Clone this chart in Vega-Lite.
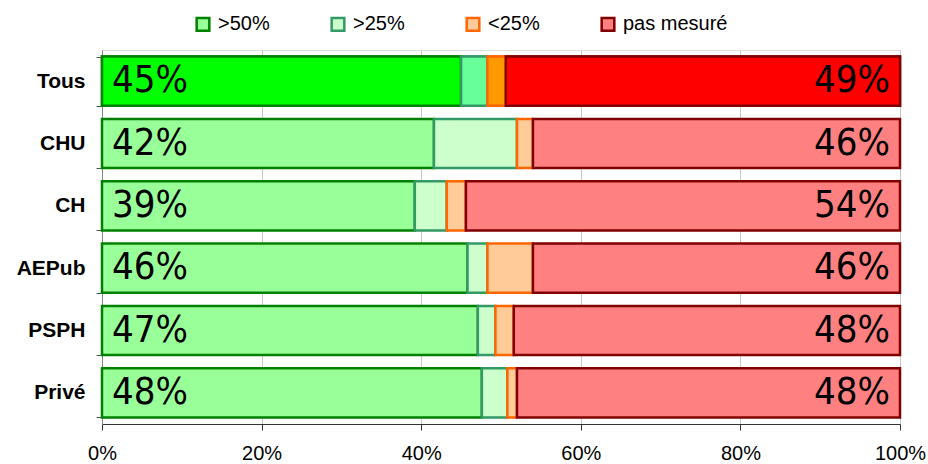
{
  "$schema": "https://vega.github.io/schema/vega-lite/v6.json",
  "autosize": {"type": "none"},
  "padding": {"left": 102, "top": 50, "right": 28, "bottom": 40},
  "width": 798,
  "height": 374,
  "background": "white",
  "data": {
    "values": [
      {"group": "Tous", "cat": ">50%", "k": 1, "v": 0.45},
      {"group": "Tous", "cat": ">25%", "k": 2, "v": 0.033},
      {"group": "Tous", "cat": "<25%", "k": 3, "v": 0.023},
      {"group": "Tous", "cat": "pas mesuré", "k": 4, "v": 0.494},
      {"group": "CHU", "cat": ">50%", "k": 1, "v": 0.416},
      {"group": "CHU", "cat": ">25%", "k": 2, "v": 0.104},
      {"group": "CHU", "cat": "<25%", "k": 3, "v": 0.02},
      {"group": "CHU", "cat": "pas mesuré", "k": 4, "v": 0.46},
      {"group": "CH", "cat": ">50%", "k": 1, "v": 0.392},
      {"group": "CH", "cat": ">25%", "k": 2, "v": 0.04},
      {"group": "CH", "cat": "<25%", "k": 3, "v": 0.024},
      {"group": "CH", "cat": "pas mesuré", "k": 4, "v": 0.544},
      {"group": "AEPub", "cat": ">50%", "k": 1, "v": 0.458},
      {"group": "AEPub", "cat": ">25%", "k": 2, "v": 0.025},
      {"group": "AEPub", "cat": "<25%", "k": 3, "v": 0.057},
      {"group": "AEPub", "cat": "pas mesuré", "k": 4, "v": 0.46},
      {"group": "PSPH", "cat": ">50%", "k": 1, "v": 0.471},
      {"group": "PSPH", "cat": ">25%", "k": 2, "v": 0.022},
      {"group": "PSPH", "cat": "<25%", "k": 3, "v": 0.023},
      {"group": "PSPH", "cat": "pas mesuré", "k": 4, "v": 0.484},
      {"group": "Privé", "cat": ">50%", "k": 1, "v": 0.476},
      {"group": "Privé", "cat": ">25%", "k": 2, "v": 0.032},
      {"group": "Privé", "cat": "<25%", "k": 3, "v": 0.012},
      {"group": "Privé", "cat": "pas mesuré", "k": 4, "v": 0.48}
    ]
  },
  "encoding": {
    "y": {
      "field": "group",
      "type": "nominal",
      "sort": ["Tous", "CHU", "CH", "AEPub", "PSPH", "Privé"],
      "scale": {"paddingInner": 0.21, "paddingOuter": 0.105},
      "axis": {
        "title": null,
        "tickBand": "extent",
        "tickSize": 6,
        "tickColor": "#555555",
        "domainColor": "#888888",
        "labelFont": "Liberation Sans",
        "labelFontWeight": "bold",
        "labelFontSize": 21,
        "labelColor": "black",
        "labelPadding": 11
      }
    }
  },
  "layer": [
    {
      "mark": {"type": "bar", "strokeWidth": 2.5},
      "encoding": {
        "x": {
          "field": "v",
          "type": "quantitative",
          "stack": "zero",
          "scale": {"domain": [0, 1], "nice": false},
          "axis": {
            "title": null,
            "format": "%",
            "values": [0, 0.2, 0.4, 0.6, 0.8, 1],
            "grid": true,
            "gridColor": "#c8c8c8",
            "domainColor": "#333333",
            "tickColor": "#333333",
            "tickSize": 6,
            "labelFlush": false,
            "labelPadding": 13,
            "labelFont": "Liberation Sans",
            "labelFontSize": 20,
            "labelColor": "black"
          }
        },
        "order": {"field": "k", "type": "quantitative"},
        "fill": {
          "field": "cat",
          "type": "nominal",
          "scale": {
            "domain": [">50%", ">25%", "<25%", "pas mesuré"],
            "range": ["#99ff99", "#ccffcc", "#ffcc99", "#ff8080"]
          },
          "legend": {
            "title": null,
            "orient": "none",
            "legendX": 91,
            "legendY": -36,
            "direction": "horizontal",
            "columns": 4,
            "gridAlign": "all",
            "columnPadding": 3,
            "symbolType": "square",
            "symbolSize": 160,
            "symbolStrokeWidth": 2.5,
            "labelFont": "Liberation Sans",
            "labelFontSize": 20,
            "labelColor": "black",
            "labelOffset": 5,
            "encode": {
              "symbols": {
                "update": {
                  "stroke": {"scale": "stroke", "field": "value"},
                  "strokeWidth": {"value": 2.5}
                }
              }
            }
          }
        },
        "stroke": {
          "field": "cat",
          "type": "nominal",
          "scale": {
            "domain": [">50%", ">25%", "<25%", "pas mesuré"],
            "range": ["#008000", "#339966", "#ff6600", "#800000"]
          },
          "legend": null
        }
      }
    },
    {
      "transform": [{"filter": "datum.group === 'Tous'"}],
      "mark": {"type": "bar", "strokeWidth": 2.5},
      "encoding": {
        "x": {"field": "v", "type": "quantitative", "stack": "zero"},
        "order": {"field": "k", "type": "quantitative"},
        "fill": {
          "field": "cat",
          "type": "nominal",
          "scale": {
            "domain": [">50%", ">25%", "<25%", "pas mesuré"],
            "range": ["#00ff00", "#66ff99", "#ff9900", "#ff0000"]
          },
          "legend": null
        },
        "stroke": {
          "field": "cat",
          "type": "nominal",
          "legend": null
        }
      }
    },
    {
      "transform": [{"filter": "datum.cat === '>50%'"}],
      "mark": {
        "type": "text",
        "align": "left",
        "baseline": "middle",
        "dx": 10,
        "font": "DejaVu Sans Condensed, sans-serif",
        "fontSize": 38,
        "color": "black"
      },
      "encoding": {
        "x": {"datum": 0, "type": "quantitative"},
        "text": {"field": "v", "type": "quantitative", "format": ".0%"}
      }
    },
    {
      "transform": [{"filter": "datum.cat === 'pas mesuré'"}],
      "mark": {
        "type": "text",
        "align": "right",
        "baseline": "middle",
        "dx": -10,
        "font": "DejaVu Sans Condensed, sans-serif",
        "fontSize": 38,
        "color": "black"
      },
      "encoding": {
        "x": {"datum": 1, "type": "quantitative"},
        "text": {"field": "v", "type": "quantitative", "format": ".0%"}
      }
    }
  ],
  "resolve": {"scale": {"fill": "independent"}}
}
